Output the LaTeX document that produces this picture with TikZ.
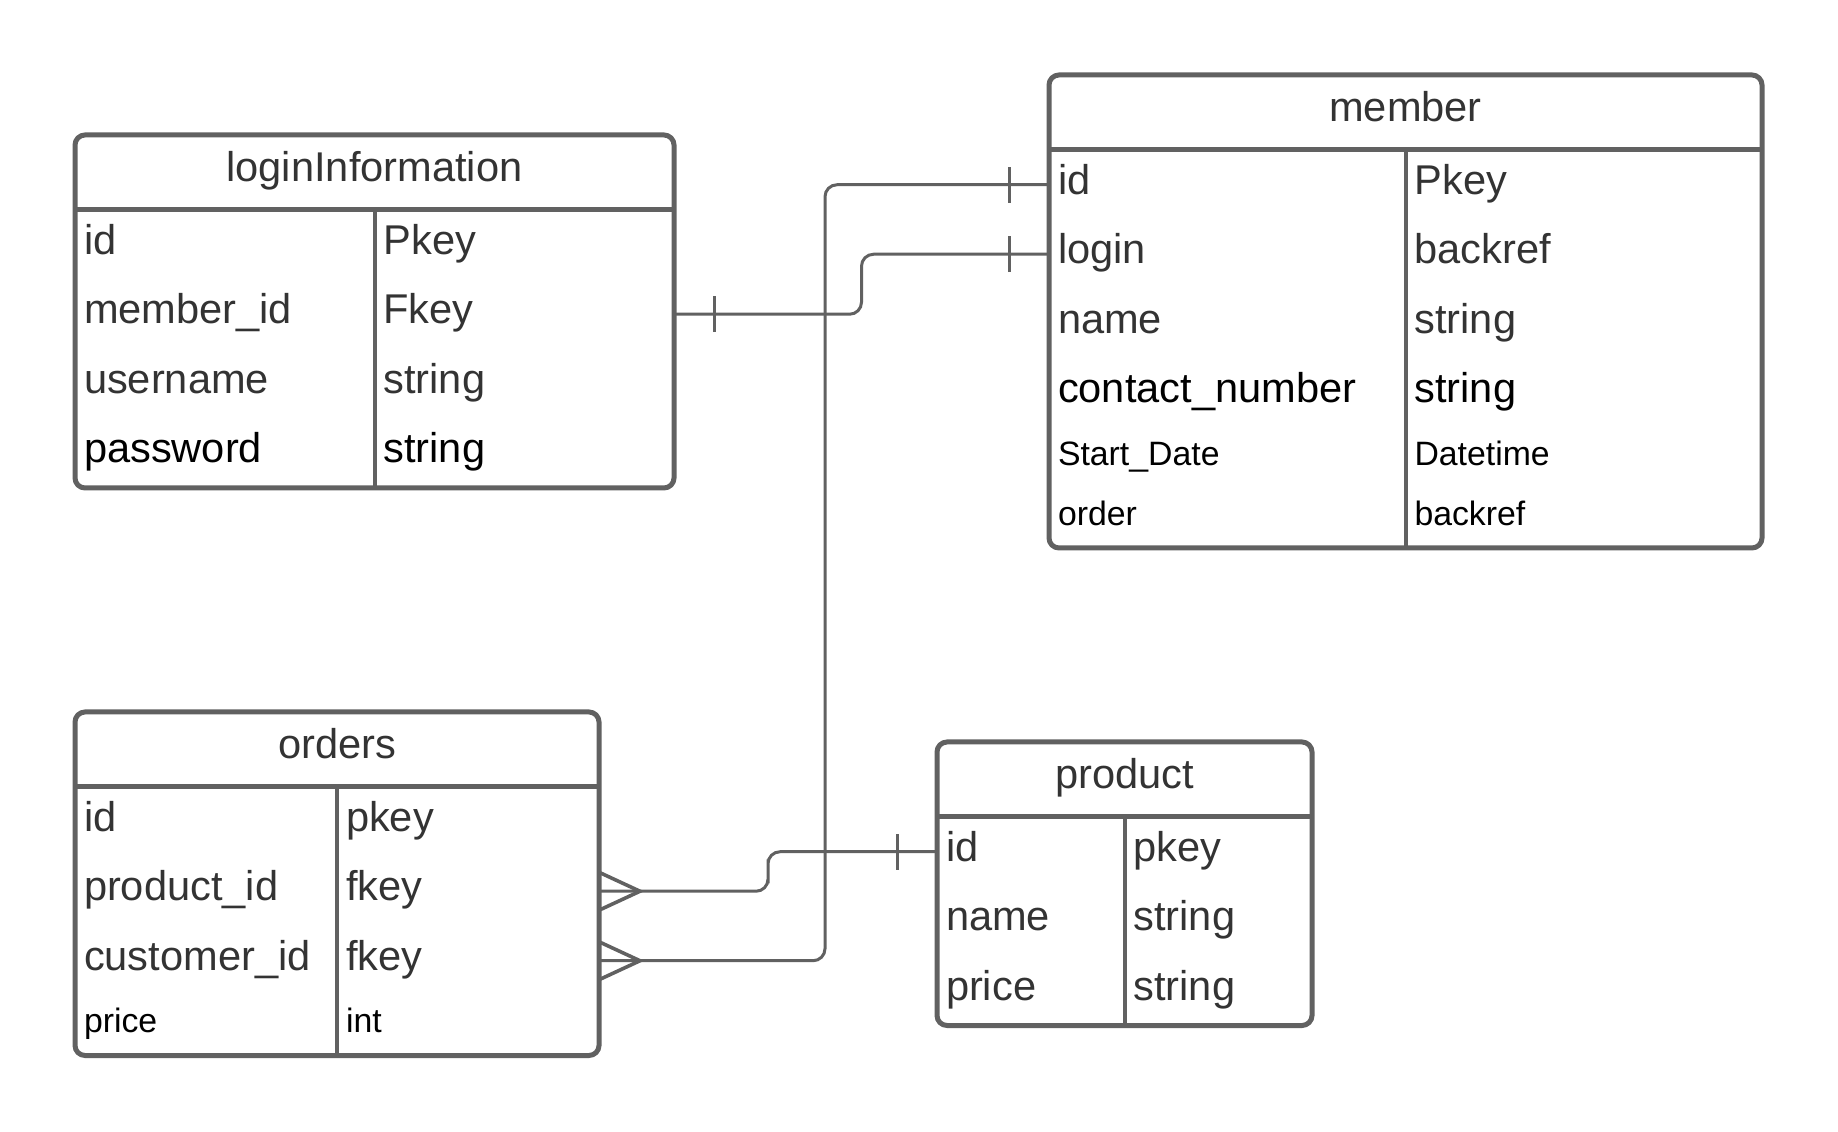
\documentclass[tikz,border=0pt]{standalone}
\usepackage{fontspec}
\setmainfont{Liberation Sans}
\usepackage{tikz}
\usetikzlibrary{shapes,arrows,calc,positioning}
\definecolor{edge}{HTML}{616161}
\definecolor{ink}{HTML}{333333}
\newcommand{\erfont}{\fontsize{20.8}{24}\selectfont}
\newcommand{\ersmall}{\fontsize{16.9}{20}\selectfont}
\tikzstyle{table} = [draw=edge, line width=2.5pt, rectangle, rounded corners=5pt, inner sep=0pt, outer sep=0pt, anchor=north west]
\tikzstyle{title} = [text=ink, font=\erfont, minimum height=37.5pt, inner sep=0pt, outer sep=0pt, text height=14.75pt, text depth=5.25pt]
\tikzstyle{cell} = [text=ink, font=\erfont, minimum height=34.75pt, inner xsep=4.5pt, inner ysep=0pt, outer sep=0pt, text height=14.75pt, text depth=5.25pt]
\tikzstyle{small} = [cell, text=black, font=\ersmall, minimum height=30pt, text height=11.75pt, text depth=4.25pt]
\tikzstyle{dark} = [text=black]
\tikzstyle{sep} = [draw=edge, line width=2.5pt]
\tikzstyle{divider} = [draw=edge, line width=2pt]
\tikzstyle{conn} = [draw=edge, line width=1.5pt, rounded corners=6pt]
\tikzstyle{foot} = [draw=edge, line width=1.8pt]

\begin{document}
\begin{tikzpicture}[x=0.5pt, y=0.5pt]
    \useasboundingbox (0,0) rectangle (1838,1131);
    % loginInformation
    \node[table, minimum width=299.5pt, minimum height=176.5pt] (login) at (75,996) {};
    \node[title, below=0pt of login.north] (logint) {loginInformation};
    \draw[sep] (logint.south -| login.west) -- (logint.south -| login.east);
    \draw[divider] (logint.south) -- (logint.south |- login.south);
    \node[cell, anchor=north west] (lgid) at (logint.south -| login.west) {id};
    \node[cell, below right=0pt of lgid.south west] (lgmem) {member\_id};
    \node[cell, below right=0pt of lgmem.south west] (lguser) {username};
    \node[cell, dark, below right=0pt of lguser.south west] (lgpass) {password};
    \node[cell, anchor=west] (lgidt) at (lgid -| logint) {Pkey};
    \node[cell, anchor=west] (lgmemt) at (lgmem -| logint) {Fkey};
    \node[cell, anchor=west] (lgusert) at (lguser -| logint) {string};
    \node[cell, dark, anchor=west] (lgpasst) at (lgpass -| logint) {string};

    % member
    \node[table, minimum width=356.5pt, minimum height=236.5pt] (member) at (1049,1056) {};
    \node[title, below=0pt of member.north] (membert) {member};
    \draw[sep] (membert.south -| member.west) -- (membert.south -| member.east);
    \draw[divider] (membert.south) -- (membert.south |- member.south);
    \node[cell, anchor=north west] (mbid) at (membert.south -| member.west) {id};
    \node[cell, below right=0pt of mbid.south west] (mblogin) {login};
    \node[cell, below right=0pt of mblogin.south west] (mbname) {name};
    \node[cell, dark, below right=0pt of mbname.south west] (mbcon) {contact\_number};
    \node[small, below right=0pt of mbcon.south west] (mbstart) {Start\_Date};
    \node[small, below right=0pt of mbstart.south west] (mborder) {order};
    \node[cell, anchor=west] (mbidt) at (mbid -| membert) {Pkey};
    \node[cell, anchor=west] (mblogint) at (mblogin -| membert) {backref};
    \node[cell, anchor=west] (mbnamet) at (mbname -| membert) {string};
    \node[cell, dark, anchor=west] (mbcont) at (mbcon -| membert) {string};
    \node[small, anchor=west] (mbstartt) at (mbstart -| membert) {Datetime};
    \node[small, anchor=west] (mbordert) at (mborder -| membert) {backref};

    % orders
    \node[table, minimum width=262pt, minimum height=171.75pt] (orders) at (75,419) {};
    \node[title, below=0pt of orders.north] (orderst) {orders};
    \draw[sep] (orderst.south -| orders.west) -- (orderst.south -| orders.east);
    \draw[divider] (orderst.south) -- (orderst.south |- orders.south);
    \node[cell, anchor=north west] (orid) at (orderst.south -| orders.west) {id};
    \node[cell, below right=0pt of orid.south west] (orprod) {product\_id};
    \node[cell, below right=0pt of orprod.south west] (orcust) {customer\_id};
    \node[small, below right=0pt of orcust.south west] (orprice) {price};
    \node[cell, anchor=west] (oridt) at (orid -| orderst) {pkey};
    \node[cell, anchor=west] (orprodt) at (orprod -| orderst) {fkey};
    \node[cell, anchor=west] (orcustt) at (orcust -| orderst) {fkey};
    \node[small, anchor=west] (orpricet) at (orprice -| orderst) {int};

    % product
    \node[table, minimum width=187.5pt, minimum height=141.75pt] (product) at (937,389) {};
    \node[title, below=0pt of product.north] (productt) {product};
    \draw[sep] (productt.south -| product.west) -- (productt.south -| product.east);
    \draw[divider] (productt.south) -- (productt.south |- product.south);
    \node[cell, anchor=north west] (prid) at (productt.south -| product.west) {id};
    \node[cell, below right=0pt of prid.south west] (prname) {name};
    \node[cell, below right=0pt of prname.south west] (prprice) {price};
    \node[cell, anchor=west] (pridt) at (prid -| productt) {pkey};
    \node[cell, anchor=west] (prnamet) at (prname -| productt) {string};
    \node[cell, anchor=west] (prpricet) at (prprice -| productt) {string};

    % relations
    \coordinate (lgmemR) at (lgmem -| login.east);
    \coordinate (orprodR) at (orprod -| orders.east);
    \coordinate (orcustR) at (orcust -| orders.east);
    \coordinate (bus) at (825,0);
    \draw[conn] (lgmemR) -| ($(lgmemR)!.5!(mblogin.west)$) |- (mblogin.west);
    \draw[conn] (mbid.west) -| (bus |- orcustR) -- (orcustR);
    \draw[conn] (prid.west) -| ($(prid.west)!.5!(orprodR)$) |- (orprodR);
    % one bars
    \draw[conn] ($(lgmemR)+(20pt,-9pt)$) -- ++(0,18pt);
    \draw[conn] ($(mbid.west)+(-20pt,-9pt)$) -- ++(0,18pt);
    \draw[conn] ($(mblogin.west)+(-20pt,-9pt)$) -- ++(0,18pt);
    \draw[conn] ($(prid.west)+(-20pt,-9pt)$) -- ++(0,18pt);
    % crow's feet
    \draw[foot] ($(orprodR)+(0,9.5pt)$) -- ($(orprodR)+(20.5pt,0)$) -- ($(orprodR)+(0,-9.5pt)$);
    \draw[foot] ($(orcustR)+(0,9.5pt)$) -- ($(orcustR)+(20.5pt,0)$) -- ($(orcustR)+(0,-9.5pt)$);
\end{tikzpicture}
\end{document}
